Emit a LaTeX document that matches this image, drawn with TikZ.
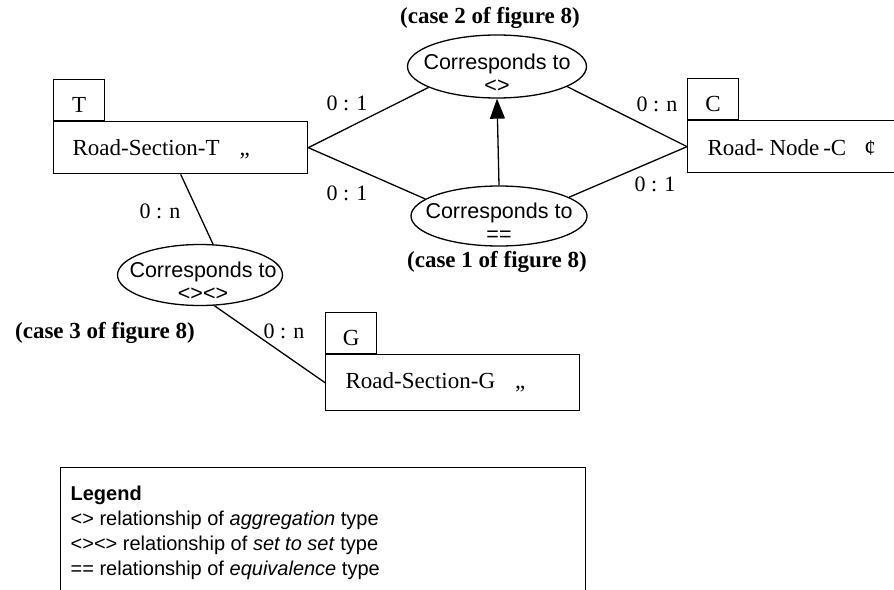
\documentclass[tikz,border=0pt]{standalone}
\usepackage{fontspec}
\setmainfont{Liberation Serif}
\newfontfamily\arialf{Liberation Sans}
\usetikzlibrary{shapes.geometric,arrows.meta}
\begin{document}
\begin{tikzpicture}[x=1pt,y=-1pt, line width=1.3pt,
  ent/.style={draw, rectangle, minimum width=254pt, minimum height=52pt, inner sep=0pt, anchor=north west},
  tabbox/.style={draw, rectangle, minimum width=51pt, minimum height=41pt, inner sep=0pt, anchor=south west, text height=26pt, text depth=0pt, font=\fontsize{23}{26}\selectfont},
  rel/.style={draw, ellipse, inner sep=0pt},
  reltext/.style={align=center, inner sep=0pt, font=\arialf\fontsize{21.5}{23}\selectfont},
  enttext/.style={anchor=base west, inner sep=0pt, font=\fontsize{23}{26}\selectfont},
  card/.style={inner sep=0pt, font=\fontsize{22}{24}\selectfont},
  casetext/.style={inner sep=0pt, font=\bfseries\fontsize{23}{26}\selectfont},
  legtext/.style={anchor=base west, inner sep=0pt, font=\arialf\fontsize{20}{24}\selectfont},
]
\useasboundingbox (0,0) rectangle (894,589);
\clip (0,0) rectangle (894,589);

% entities
\node[ent] (T) at (53,121) {};
\node[tabbox] (Ttab) at (T.north west) {T};
\node[enttext] (Tlab) at (72,155) {Road-Section-T\hspace{20pt}„};

\node[ent] (C) at (687,120) {};
\node[tabbox] (Ctab) at (C.north west) {C};
\node[enttext] (Clab) at (707,155) {Road- Node\,-C\hspace{18pt}¢};

\node[ent, minimum height=56pt] (G) at (325,354) {};
\node[tabbox] (Gtab) at (G.north west) {G};
\node[enttext] (Glab) at (345,388) {Road-Section-G\hspace{20pt}„};

% relationships
\node[rel, minimum width=179pt, minimum height=63pt] (R2) at (497,66.5) {};
\node[reltext] (R2t) at (497,73) {Corresponds to\\<>};
\node[casetext] (C2) at (490,18) {(case 2 of figure 8)};

\node[rel, minimum width=176pt, minimum height=60pt] (R1) at (499,216) {};
\node[reltext] (R1t) at (499,222) {Corresponds to\\==};
\node[casetext] (C1) at (497,262) {(case 1 of figure 8)};

\node[rel, minimum width=165pt, minimum height=61pt] (R3) at (200,275) {};
\node[reltext] (R3t) at (203,281) {Corresponds to\\<><>};
\node[casetext] (C3) at (105,333) {(case 3 of figure 8)};

% connectors
\draw (T.east) -- (R2.197);
\draw (T.east) -- (R1.167);
\draw (C.west) -- (R2.-16);
\draw (C.west) -- (R1.15);
\draw[-{Triangle[length=20pt,width=15pt]}] (R1.north) -- (R2.south);
\draw (T.south) -- (R3.67);
\draw (R3.-65) -- (G.west);

% cardinalities
\node[card] (k1) at (347,103) {0 : 1};
\node[card] (k2) at (347,193) {0 : 1};
\node[card] (k3) at (657,104) {0 : n};
\node[card] (k4) at (655,184) {0 : 1};
\node[card] (k5) at (160,211) {0 : n};
\node[card] (k6) at (284,331) {0 : n};

% legend
\node[draw, rectangle, anchor=north west, minimum width=525pt, minimum height=160pt] (leg) at (60,467) {};
\node[legtext, font=\arialf\bfseries\fontsize{20}{24}\selectfont] (l0) at (70,500) {Legend};
\node[legtext] (l1) at (70,525) {<> relationship of \textit{aggregation} type};
\node[legtext] (l2) at (70,550) {<><> relationship of \textit{set to set} type};
\node[legtext] (l3) at (70,575) {== relationship of \textit{equivalence} type};
\end{tikzpicture}
\end{document}
